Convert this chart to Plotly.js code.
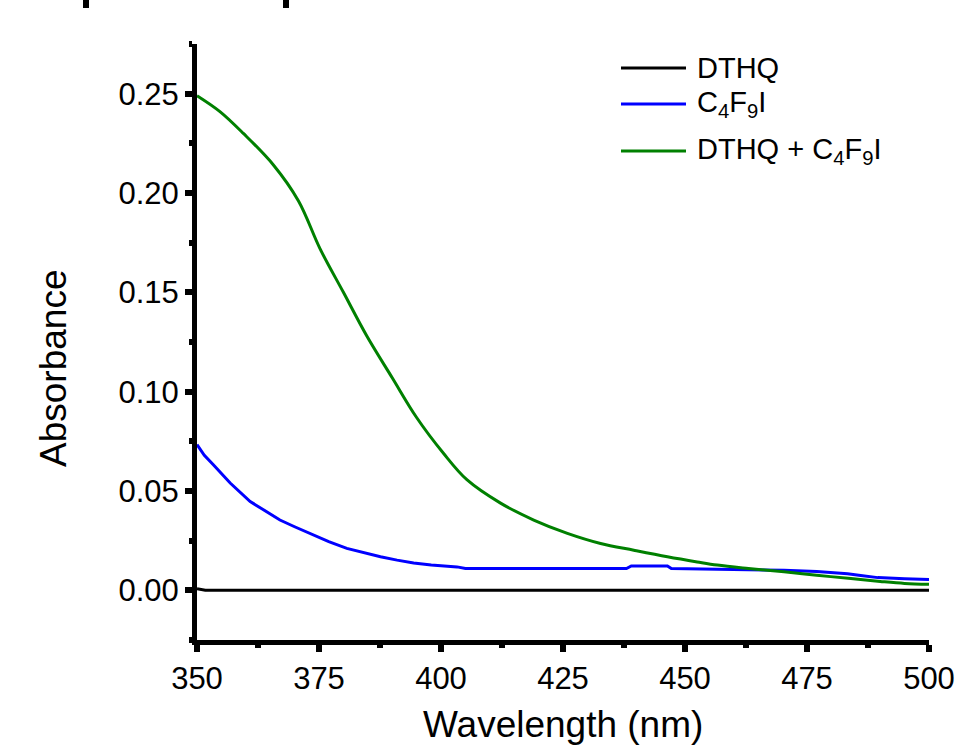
<!DOCTYPE html>
<html>
<head>
<meta charset="utf-8">
<script src="https://cdn.plot.ly/plotly-3.0.1.min.js"></script>
<style>
html,body{margin:0;padding:0;background:#fff;}
#chart{width:960px;height:747px;}
</style>
</head>
<body>
<div id="chart"></div>
<script>
// ---- data ----
const seriesNames = ["DTHQ", "C<sub>4</sub>F<sub>9</sub>I", "DTHQ + C<sub>4</sub>F<sub>9</sub>I"];
const seriesColors = ["#000000", "#0000ff", "#008000"];

const dthqWl  = [350, 351.7, 375, 400, 425, 450, 475, 500];
const dthqAbs = [0.0008, 0.0, 0.0, 0.0, 0.0, 0.0, 0.0, 0.0];

const c4f9iWl  = [350, 351.5, 353.3, 355, 356.8, 360.9, 364, 367, 370, 373.9, 377, 380.7, 384, 387.6, 391, 394.4, 398, 403.3, 405, 438, 439, 446.4, 447.2, 460, 470.3, 477, 483.3, 486, 489.5, 495, 500];
const c4f9iAbs = [0.0734, 0.068, 0.0633, 0.0585, 0.054, 0.0447, 0.040, 0.0354, 0.032, 0.0278, 0.0245, 0.0211, 0.019, 0.0169, 0.0152, 0.0138, 0.0128, 0.0118, 0.011, 0.011, 0.0123, 0.0123, 0.011, 0.0107, 0.0101, 0.0095, 0.0084, 0.0075, 0.0064, 0.0058, 0.0054];

const mixWl  = [350, 354.7, 359.5, 365.7, 370.8, 375.2, 380, 384.8, 390, 395, 400.5, 405.3, 412.2, 419, 425.9, 432.7, 439.5, 446.4, 452.5, 456.6, 463, 470.3, 477, 484, 490, 495, 500];
const mixAbs = [0.249, 0.241, 0.230, 0.214, 0.196, 0.172, 0.150, 0.128, 0.107, 0.087, 0.069, 0.0557, 0.0439, 0.0354, 0.0287, 0.0236, 0.0202, 0.0169, 0.0143, 0.0127, 0.011, 0.0093, 0.0076, 0.0059, 0.0045, 0.0035, 0.003];

const xTitle = "Wavelength (nm)";
const yTitle = "Absorbance";
const xRange = [350, 500];
const yRange = [-0.025, 0.275];

// ---- layout geometry ----
const W = 960, H = 747;
const M = {l: 197, r: 31, t: 44, b: 107};
const PW = W - M.l - M.r, PH = H - M.t - M.b;
const px2x = p => (p - M.l) / PW;          // pixel -> paper x
const px2y = p => (H - M.b - p) / PH;      // pixel -> paper y

const FONT = "Liberation Sans, Arial, sans-serif";

const xs = [dthqWl, c4f9iWl, mixWl];
const ys = [dthqAbs, c4f9iAbs, mixAbs];
const lineShapes = ["linear", "linear", "spline"];
const traces = xs.map((x, i) => ({
  x: x, y: ys[i], type: "scatter", mode: "lines",
  name: seriesNames[i],
  line: {color: seriesColors[i], width: 3, shape: lineShapes[i], smoothing: 1},
  showlegend: false
}));

// custom legend (long line samples like the original)
const legRowsY = [68, 104, 151];
const shapes = [];
const annotations = [];
seriesNames.forEach((n, i) => {
  shapes.push({type: "line", xref: "paper", yref: "paper",
    x0: px2x(621), x1: px2x(686), y0: px2y(legRowsY[i]), y1: px2y(legRowsY[i]),
    line: {color: seriesColors[i], width: 3}});
  annotations.push({xref: "paper", yref: "paper", x: px2x(695), y: px2y(legRowsY[i]),
    xanchor: "left", yanchor: "middle", showarrow: false, text: n,
    font: {family: FONT, size: 29, color: "#000"}});
});
// axis titles
annotations.push({xref: "paper", yref: "paper", x: px2x(53), y: px2y(369),
  xanchor: "center", yanchor: "middle", showarrow: false, textangle: -90,
  text: yTitle, font: {family: FONT, size: 37, color: "#000"}});
annotations.push({xref: "paper", yref: "paper", x: px2x(563), y: px2y(747),
  xanchor: "center", yanchor: "bottom", showarrow: false,
  text: xTitle, font: {family: FONT, size: 37, color: "#000"}});

// cropped marks at the top edge of the original figure
[[83, 89], [283, 289]].forEach(([a, b]) => {
  shapes.push({type: "rect", xref: "paper", yref: "paper",
    x0: px2x(a), x1: px2x(b), y0: px2y(8), y1: px2y(-2),
    fillcolor: "#000", line: {width: 0}});
});

const axisCommon = {
  showgrid: false, zeroline: false, showline: true,
  linecolor: "#000", linewidth: 5,
  ticks: "outside", ticklen: 7, tickwidth: 6, tickcolor: "#000",
  tickfont: {family: FONT, size: 31, color: "#000"}
};

const layout = {
  width: W, height: H,
  margin: M,
  paper_bgcolor: "#fff", plot_bgcolor: "#fff",
  showlegend: false,
  xaxis: Object.assign({}, axisCommon, {
    range: xRange, tick0: 350, dtick: 25,
    minor: {dtick: 12.5, ticks: "outside", ticklen: 3, tickwidth: 6, tickcolor: "#000"}
  }),
  yaxis: Object.assign({}, axisCommon, {
    range: yRange, tick0: 0, dtick: 0.05, tickformat: ".2f",
    minor: {dtick: 0.025, ticks: "outside", ticklen: 3, tickwidth: 6, tickcolor: "#000"}
  }),
  shapes: shapes,
  annotations: annotations
};

Plotly.newPlot("chart", traces, layout, {displayModeBar: false, staticPlot: true});
</script>
</body>
</html>
